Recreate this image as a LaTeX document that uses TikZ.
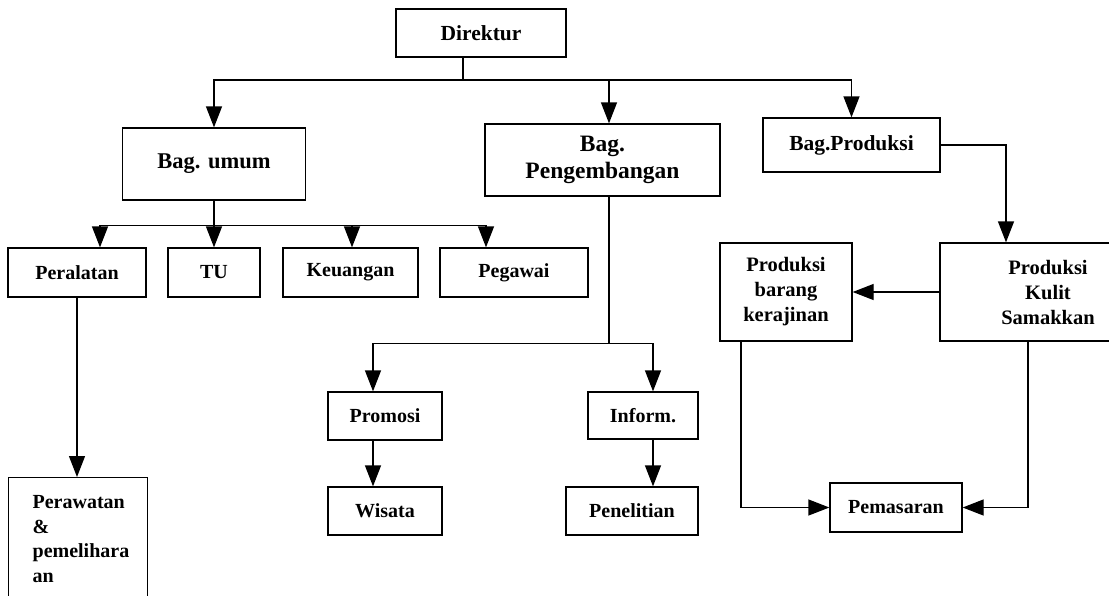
\documentclass[tikz,border=0pt]{standalone}
\usepackage{fontspec}
\setmainfont{Liberation Serif}
\usetikzlibrary{positioning, arrows.meta, calc}

\begin{document}
\begin{tikzpicture}[
    x=1pt, y=-1pt,
    every node/.style={align=center},
    box/.style={draw, rectangle, line width=1.3pt, inner sep=0pt, font=\fontsize{20}{24.5}\selectfont\bfseries},
    bigbox/.style={box, font=\fontsize{21.5}{26}\selectfont\bfseries},
    link/.style={line width=1.3pt},
    arrow/.style={-{Triangle[length=21pt, width=16pt]}, line width=1.3pt},
]
\useasboundingbox (0,0) rectangle (1109,595);
% Direktur at the top
\node[bigbox, minimum width=170pt, minimum height=48pt] (direktur) at (481,33) {Direktur};
% Bagian
\node[bigbox, font=\fontsize{22.5}{27}\selectfont\bfseries, minimum width=183pt, minimum height=72pt] (umum) at (214,164) {Bag. umum};
\node[bigbox, font=\fontsize{23.5}{27}\selectfont\bfseries, minimum width=235pt, minimum height=72pt] (pengembangan) at (602.5,160) {Bag.\\Pengembangan};
\node[bigbox, minimum width=177pt, minimum height=54pt] (produksi) at (851.5,145) {Bag.Produksi};
% Under Bag. umum
\node[box, minimum width=138pt, minimum height=49pt] (peralatan) at (77,272.5) {Peralatan};
\node[box, minimum width=92pt, minimum height=49pt] (tu) at (214,272.5) {TU};
\node[box, minimum width=135pt, minimum height=49pt] (keuangan) at (350.5,272.5) {Keuangan};
\node[box, minimum width=148pt, minimum height=49pt] (pegawai) at (514,272.5) {Pegawai};
\node[box, anchor=north west, align=left, text width=91pt, inner xsep=24pt, inner ysep=18pt] (perawatan) at (8,477) {Perawatan\\\&\\pemelihara\\an};
% Under Bag. Pengembangan
\node[box, minimum width=114pt, minimum height=48pt] (promosi) at (385,416) {Promosi};
\node[box, minimum width=114pt, minimum height=48pt] (wisata) at (385,511) {Wisata};
\node[box, minimum width=110pt, minimum height=47pt] (inform) at (643,415.5) {Inform.};
\node[box, minimum width=132pt, minimum height=48pt] (penelitian) at (632,511) {Penelitian};
% Under Bag.Produksi
\node[box, font=\fontsize{20.5}{25}\selectfont\bfseries, minimum width=132pt, minimum height=98pt] (kerajinan) at (786,292) {Produksi\\barang\\kerajinan};
\node[box, font=\fontsize{20.5}{25}\selectfont\bfseries, minimum width=216pt, minimum height=98pt] (kulit) at (1048,292) {Produksi\\Kulit\\Samakkan};
\node[box, minimum width=132pt, minimum height=49pt] (pemasaran) at (896,507.5) {Pemasaran};
% Bus lines
\coordinate (top bus) at (463,80);
\coordinate (umum bus) at ($(umum.south)+(0,25)$);
\coordinate (peng bus) at ($(pengembangan.south)+(6.5,147)$);
% Arrows
\draw[link] (direktur.south -| top bus) -- (top bus);
\draw[arrow] (top bus) -| (umum.north);
\draw[arrow] (top bus) -| ($(pengembangan.north)+(6.5,0)$);
\draw[arrow] (top bus) -| (produksi.north);
\draw[arrow] (umum.south) -- (tu.north);
\draw[arrow] (umum bus) -| ($(peralatan.north)+(23,0)$);
\draw[arrow] (umum bus) -| ($(keuangan.north)+(1.5,0)$);
\draw[arrow] (umum bus) -| ($(pegawai.north)+(-28,0)$);
\draw[arrow] (peralatan.south) -- (perawatan.north -| peralatan.south);
\draw[link] ($(pengembangan.south)+(6.5,0)$) -- (peng bus);
\draw[arrow] (peng bus) -| ($(promosi.north)+(-12,0)$);
\draw[arrow] (peng bus) -| ($(inform.north)+(10,0)$);
\draw[arrow] ($(promosi.south)+(-12,0)$) -- ($(wisata.north)+(-12,0)$);
\draw[arrow] ($(inform.south)+(10,0)$) -- ($(penelitian.north)+(21,0)$);
\draw[arrow] (produksi.east) -| ($(kulit.north)+(-42,0)$);
\draw[arrow] (kulit.west) -- (kerajinan.east);
\draw[arrow] ($(kerajinan.south)+(-45,0)$) |- (pemasaran.west);
\draw[arrow] ($(kulit.south)+(-20,0)$) |- (pemasaran.east);
\end{tikzpicture}
\end{document}
